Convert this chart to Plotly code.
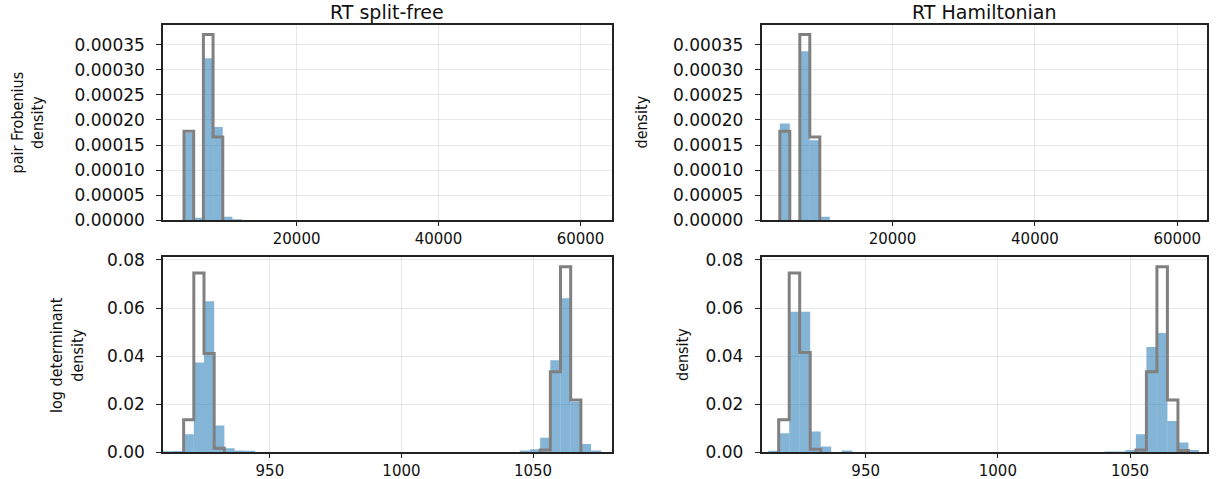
import plotly.graph_objects as go

# ---------------- data ----------------
# top-left: RT split-free, pair Frobenius
tl_edges = [4128, 5494, 6860, 8226, 9592, 10958]
tl_width = 1366
tl_blue = [1.74e-4, 0.05e-4, 3.23e-4, 1.86e-4, 0.07e-4, 0.02e-4]
tl_grey = [1.776e-4, 0.0, 3.705e-4, 1.663e-4, 0.0, 0.0]

# top-right: RT Hamiltonian, pair Frobenius
tr_edges = [4160, 5565, 6970, 8375, 9780]
tr_width = 1405
tr_blue = [1.929e-4, 0.0, 3.373e-4, 1.597e-4, 0.073e-4]
tr_grey = [1.776e-4, 0.0, 3.705e-4, 1.663e-4, 0.0]

# bottom-left: RT split-free, log determinant
bl_edges = [909.50, 913.37, 917.24, 921.11, 924.98, 928.85, 932.72, 936.59, 940.46,
            1044.95, 1048.82, 1052.69, 1056.56, 1060.43, 1064.30, 1068.17, 1072.04]
bl_width = 3.87
bl_blue = [0.0004, 0.0005, 0.0075, 0.0373, 0.0628, 0.0111, 0.0017, 0.0008, 0.0006,
           0.0007, 0.0013, 0.0061, 0.0383, 0.0641, 0.0210, 0.0034, 0.0008]
bl_grey = [0.0, 0.0, 0.0135, 0.0746, 0.0411, 0.0017, 0.0, 0.0, 0.0,
           0.0, 0.0, 0.0010, 0.0335, 0.0772, 0.0217, 0.0, 0.0]

# bottom-right: RT Hamiltonian, log determinant
br_edges = [913.13, 917.10, 921.08, 925.05, 929.03, 933.00, 936.97, 940.95,
            1040.30, 1044.27, 1048.25, 1052.22, 1056.19, 1060.17, 1064.14, 1068.12, 1072.09]
br_width = 3.974
br_blue = [0.0006, 0.0079, 0.0585, 0.0585, 0.0086, 0.0024, 0.0, 0.0008,
           0.0003, 0.0003, 0.0010, 0.0075, 0.0438, 0.0496, 0.0130, 0.0041, 0.0010]
br_grey = [0.0, 0.0135, 0.0746, 0.0415, 0.0013, 0.0, 0.0, 0.0,
           0.0, 0.0, 0.0, 0.0010, 0.0335, 0.0772, 0.0217, 0.0008, 0.0]

col_titles = ["RT split-free", "RT Hamiltonian"]
row_labels = ["pair Frobenius<br>density", "log determinant<br>density"]
top_xticks = [20000, 40000, 60000]
bot_xticks = [950, 1000, 1050]
top_yticks = [0, 0.00005, 0.0001, 0.00015, 0.0002, 0.00025, 0.0003, 0.00035]
bot_yticks = [0, 0.02, 0.04, 0.06, 0.08]

# ---------------- figure ----------------
W, H = 1218, 479
BLUE = "rgba(31,119,180,0.55)"
GREY = "rgb(128,128,128)"


def fx(p):
    return p / W


def fy(p):
    return 1 - p / H


def step_xy(edges, heights, w):
    xs, ys = [], []
    n = len(heights)
    i = 0
    while i < n:
        if heights[i] > 0:
            j = i
            xs.append(edges[i]); ys.append(0)
            while j < n and heights[j] > 0:
                xs.append(edges[j]); ys.append(heights[j])
                if j + 1 < n and edges[j + 1] - edges[j] > 1.5 * w:
                    j += 1
                    break
                j += 1
            xs.append(edges[j - 1] + w); ys.append(0)
            xs.append(None); ys.append(None)
            i = j
        else:
            i += 1
    return xs, ys


panels = [
    ("x", "y", tl_edges, tl_width, tl_blue, tl_grey),
    ("x2", "y2", tr_edges, tr_width, tr_blue, tr_grey),
    ("x3", "y3", bl_edges, bl_width, bl_blue, bl_grey),
    ("x4", "y4", br_edges, br_width, br_blue, br_grey),
]

fig = go.Figure()
for xa, ya, edges, w, blue, grey in panels:
    fig.add_trace(go.Bar(x=[e + w / 2 for e in edges], y=blue, width=w,
                         marker=dict(color=BLUE, line=dict(width=0)),
                         xaxis=xa, yaxis=ya, showlegend=False, hoverinfo="skip"))
    sx, sy = step_xy(edges, grey, w)
    fig.add_trace(go.Scatter(x=sx, y=sy, mode="lines", line=dict(color=GREY, width=3, shape="hv"),
                             connectgaps=False, xaxis=xa, yaxis=ya, showlegend=False,
                             hoverinfo="skip"))

common = dict(showline=True, mirror=True, linecolor="#222", linewidth=1.5,
              ticks="outside", tickwidth=1.2, tickcolor="#222",
              showgrid=True, gridcolor="rgba(0,0,0,0.09)", gridwidth=1,
              zeroline=False, automargin=False)
xcommon = dict(tickfont=dict(family="DejaVu Sans", size=15, color="#111"),
               ticklen=4, ticklabelstandoff=0, tickformat="d", **common)
ycommon = dict(tickfont=dict(family="DejaVu Sans", size=17, color="#111"),
               ticklen=5, ticklabelstandoff=8, **common)

xdom_l = [fx(163), fx(611.5)]
xdom_r = [fx(761.5), fx(1206.7)]
ydom_t = [fy(220.3), fy(24.7)]
ydom_b = [fy(452.3), fy(257.3)]

fig.update_layout(
    width=W, height=H, autosize=False, margin=dict(l=0, r=0, t=0, b=0, pad=0),
    paper_bgcolor="white", plot_bgcolor="white", barmode="overlay",
    xaxis=dict(domain=xdom_l, anchor="y", range=[1170, 64370], tickvals=top_xticks, **xcommon),
    yaxis=dict(domain=ydom_t, anchor="x", range=[0, 0.000390], tickvals=top_yticks,
               tickformat=".5f", **ycommon),
    xaxis2=dict(domain=xdom_r, anchor="y2", range=[1588, 64132], tickvals=top_xticks, **xcommon),
    yaxis2=dict(domain=ydom_t, anchor="x2", range=[0, 0.000390], tickvals=top_yticks,
                tickformat=".5f", **ycommon),
    xaxis3=dict(domain=xdom_l, anchor="y3", range=[909.4, 1079.8], tickvals=bot_xticks, **xcommon),
    yaxis3=dict(domain=ydom_b, anchor="x3", range=[0, 0.0811], tickvals=bot_yticks,
                tickformat=".2f", **ycommon),
    xaxis4=dict(domain=xdom_r, anchor="y4", range=[910.6, 1079.0], tickvals=bot_xticks, **xcommon),
    yaxis4=dict(domain=ydom_b, anchor="x4", range=[0, 0.0811], tickvals=bot_yticks,
                tickformat=".2f", **ycommon),
)

title_font = dict(family="DejaVu Sans", size=19, color="#111")
label_font = dict(family="Liberation Sans Narrow, DejaVu Sans Condensed, sans-serif",
                  size=16, color="#111")
ann = [
    dict(text=col_titles[0], x=fx(387), y=fy(12), font=title_font),
    dict(text=col_titles[1], x=fx(984), y=fy(12), font=title_font),
    dict(text=row_labels[0], x=fx(28), y=fy(122.5), font=label_font, textangle=-90),
    dict(text="density", x=fx(641), y=fy(122.5), font=label_font, textangle=-90),
    dict(text=row_labels[1], x=fx(67), y=fy(355), font=label_font, textangle=-90),
    dict(text="density", x=fx(682), y=fy(355), font=label_font, textangle=-90),
]
for a in ann:
    fig.add_annotation(xref="paper", yref="paper", showarrow=False,
                       xanchor="center", yanchor="middle", **a)

fig.write_html("out.html",
               config={"displayModeBar": False, "responsive": False},
               post_script="document.body.style.margin='0px';"
                           "document.body.style.overflow='hidden';")
